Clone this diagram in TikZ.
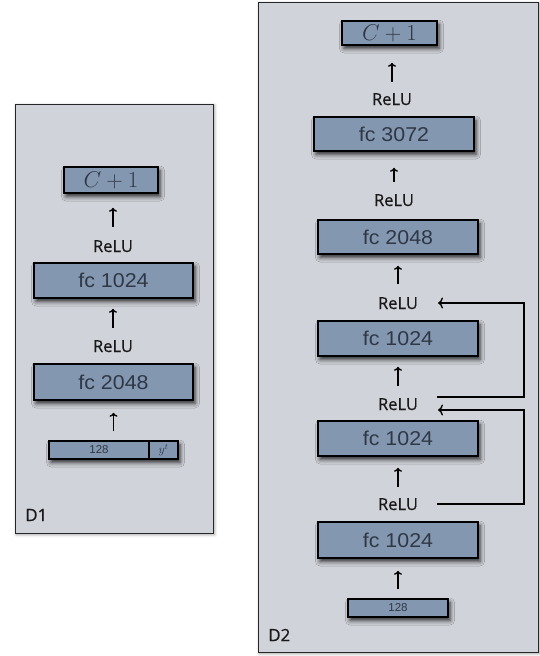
\documentclass[tikz,border=0pt]{standalone}
\usepackage{fontspec}
\setmainfont{Liberation Sans}
\newfontfamily\relufont[FakeBold=0.6]{Open Sans}
\usetikzlibrary{shadows.blur,arrows.meta,calc}
\definecolor{panelfill}{HTML}{D0D3D9}
\definecolor{boxfill}{HTML}{8497B0}
\definecolor{boxtext}{HTML}{2F3846}
\tikzset{
  panel/.style={draw=black!85, line width=1pt, fill=panelfill,
    blur shadow={shadow xshift=1.5pt, shadow yshift=-1.5pt, shadow blur radius=3pt, shadow opacity=40}},
  layer/.style={draw=black, line width=1.6pt, fill=boxfill, inner sep=0pt, text=boxtext,
    blur shadow={shadow xshift=2pt, shadow yshift=-3.5pt, shadow blur radius=4.5pt, shadow opacity=80},
    font=\fontsize{20}{20}\selectfont},
  smalllayer/.style={layer, font=\fontsize{11.5}{12}\selectfont},
  flatlayer/.style={draw=black, line width=1.6pt, fill=boxfill, inner sep=0pt, text=boxtext},
  relu/.style={font=\relufont\fontsize{16.5}{17}\selectfont, inner sep=0pt, text height=12pt,
    text depth=0pt, anchor=base, text=black!90},
  tag/.style={font=\relufont\fontsize{17}{17}\selectfont, inner sep=0pt, text=black!90},
  up/.style={-{To[length=4pt,width=8pt]}, line width=1.4pt},
  skip/.style={-{To[length=5pt,width=11pt]}, line width=1.4pt},
}
\begin{document}
\begin{tikzpicture}[x=1pt,y=-1pt]
\useasboundingbox (0,0) rectangle (540,656);
% ---------------- D1 ----------------
\path[panel] (15,104) rectangle (213,533);
\node[tag, anchor=west] (d1) at (25,515) {D1};
\node[layer, minimum width=94pt, minimum height=26pt] (a_out) at (111,180) {\scalebox{1.1}{$C+1$}};
\node[relu] (a_r1) at (113,252) {ReLU};
\node[layer, minimum width=159pt, minimum height=35pt] (a_fc1) at (113.5,280.5) {\scalebox{1.07}[1]{fc 1024}};
\node[relu] (a_r2) at (113,352) {ReLU};
\node[layer, minimum width=159pt, minimum height=36pt] (a_fc2) at (113.5,382) {\scalebox{1.07}[1]{fc 2048}};
\node[smalllayer, minimum width=129pt, minimum height=18pt] (a_in) at (113.5,450) {\makebox[129pt][l]{\makebox[100pt]{128}}};
\node[flatlayer, minimum width=29pt, minimum height=18pt, font=\fontsize{12}{12}\selectfont] (a_y) at (163.5,450) {$y^t$};
\draw[up, shorten <=13pt, shorten >=14pt] (a_r1.north) -- (a_out.south -| a_r1.north);
\draw[up, shorten <=12pt, shorten >=10pt] (a_r2.north) -- (a_fc1.south -| a_r2.north);
\draw[up, shorten <=9pt, shorten >=12pt] (a_fc2.south |- a_in.north) -- (a_fc2.south);
% ---------------- D2 ----------------
\path[panel] (258,2) rectangle (538,652);
\node[tag, anchor=west] (d2) at (268,635) {D2};
\coordinate (sx) at (437,0);
\coordinate (tx) at (438,0);
\coordinate (rx) at (524,0);
\node[layer, minimum width=95pt, minimum height=24pt] (b_out) at (389.5,33) {\scalebox{1.1}{$C+1$}};
\node[relu] (b_r1) at (392,105) {ReLU};
\node[layer, minimum width=160pt, minimum height=34pt] (b_fc1) at (394,134) {\scalebox{1.07}[1]{fc 3072}};
\node[relu] (b_r2) at (394,206) {ReLU};
\node[layer, minimum width=160pt, minimum height=34pt] (b_fc2) at (398,237) {\scalebox{1.07}[1]{fc 2048}};
\node[relu] (b_r3) at (398,309) {ReLU};
\node[layer, minimum width=160pt, minimum height=35pt] (b_fc3) at (398,338.5) {\scalebox{1.07}[1]{fc 1024}};
\node[relu] (b_r4) at (398,410) {ReLU};
\node[layer, minimum width=160pt, minimum height=35pt] (b_fc4) at (398,438.5) {\scalebox{1.07}[1]{fc 1024}};
\node[relu] (b_r5) at (398,510) {ReLU};
\node[layer, minimum width=160pt, minimum height=36pt] (b_fc5) at (398,540) {\scalebox{1.07}[1]{fc 1024}};
\node[smalllayer, minimum width=100pt, minimum height=18pt] (b_in) at (398,608) {128};
\draw[up, shorten <=11pt, shorten >=17pt] (b_r1.north) -- (b_out.south -| b_r1.north);
\draw[up, shorten <=12pt, shorten >=16pt] (b_r2.north) -- (b_fc1.south -| b_r2.north);
\draw[up, shorten <=13pt, shorten >=11pt] (b_r3.north) -- (b_fc2.south);
\draw[up, shorten <=12pt, shorten >=10pt] (b_r4.north) -- (b_fc3.south);
\draw[up, shorten <=11pt, shorten >=11pt] (b_r5.north) -- (b_fc4.south);
\draw[up, shorten <=9pt, shorten >=12pt] (b_in.north) -- (b_fc5.south);
\draw[skip] ($(b_r4.center -| sx)+(0,-7)$) -- ($(b_r4.center -| rx)+(0,-7)$)
  -- (b_r3.center -| rx) -- (b_r3.center -| tx);
\draw[skip] (b_r5.center -| sx) -- (b_r5.center -| rx)
  -- ($(b_r4.center -| rx)+(0,6)$) -- ($(b_r4.center -| tx)+(0,6)$);
\end{tikzpicture}
\end{document}
